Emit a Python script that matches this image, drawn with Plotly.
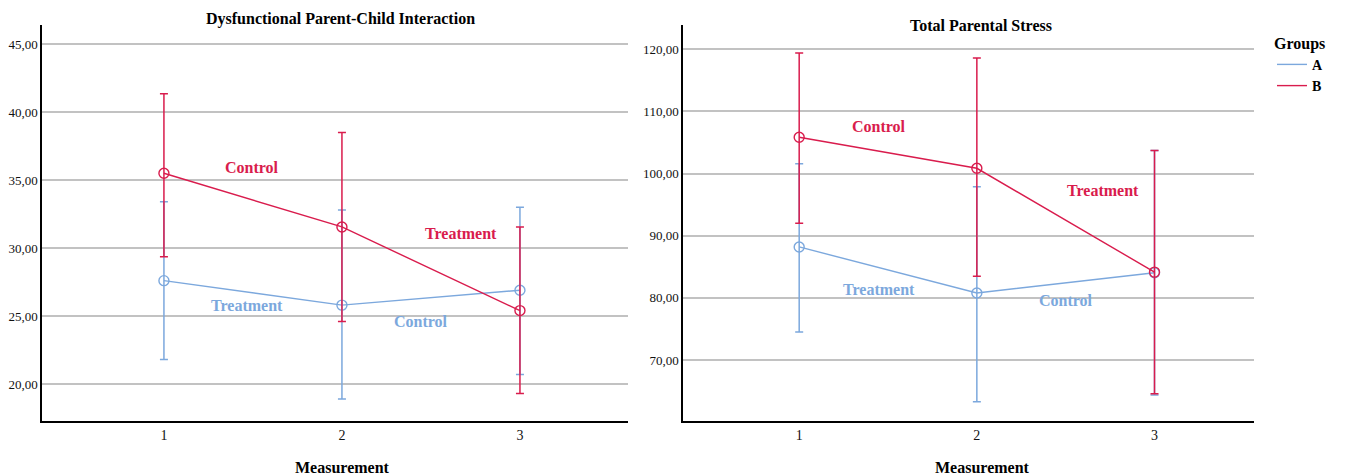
import plotly.graph_objects as go

measurements = [1, 2, 3]

# Dysfunctional Parent-Child Interaction
dpci_A_mean = [27.6, 25.8, 26.9]
dpci_A_low = [21.8, 18.9, 20.7]
dpci_A_high = [33.4, 32.8, 33.0]
dpci_B_mean = [35.5, 31.55, 25.4]
dpci_B_low = [29.35, 24.6, 19.3]
dpci_B_high = [41.35, 38.5, 31.55]

# Total Parental Stress
tps_A_mean = [88.2, 80.8, 84.05]
tps_A_low = [74.5, 63.3, 64.4]
tps_A_high = [101.6, 97.9, 103.7]
tps_B_mean = [105.85, 100.85, 84.15]
tps_B_low = [92.0, 83.5, 64.6]
tps_B_high = [119.4, 118.6, 103.7]

dpci_ticks = [20, 25, 30, 35, 40, 45]
dpci_ticktext = ["20,00", "25,00", "30,00", "35,00", "40,00", "45,00"]
tps_ticks = [70, 80, 90, 100, 110, 120]
tps_ticktext = ["70,00", "80,00", "90,00", "100,00", "110,00", "120,00"]

group_names = ["A", "B"]
blue = "#7ca8dd"
red = "#d91c4d"
FONT = "Liberation Serif"

# the page body has an 8px margin; figure is placed at (8, 8)
OFF = 8
W, H = 1337, 468


def px(x):
    return (x - OFF) / W


def py(y):
    return 1 - (y - OFF) / H


fig = go.Figure()


def add_series(means, low, high, color, xa, ya):
    fig.add_trace(go.Scatter(
        x=measurements, y=means, mode="lines+markers",
        line=dict(color=color, width=1.4),
        marker=dict(symbol="circle-open", size=10, color=color, line=dict(width=1.4)),
        error_y=dict(type="data", symmetric=False,
                     array=[h - m for h, m in zip(high, means)],
                     arrayminus=[m - l for m, l in zip(means, low)],
                     color=color, thickness=1.5, width=4),
        xaxis=xa, yaxis=ya, showlegend=False, hoverinfo="skip"))


add_series(dpci_A_mean, dpci_A_low, dpci_A_high, blue, "x", "y")
add_series(dpci_B_mean, dpci_B_low, dpci_B_high, red, "x", "y")
add_series(tps_A_mean, tps_A_low, tps_A_high, blue, "x2", "y2")
add_series(tps_B_mean, tps_B_low, tps_B_high, red, "x2", "y2")

# legend entries
for name, color in zip(group_names, [blue, red]):
    fig.add_trace(go.Scatter(x=[None], y=[None], mode="lines", name=f"<b>{name}</b>",
                             line=dict(color=color, width=1.4), showlegend=True,
                             xaxis="x2", yaxis="y2"))

ydom = [py(421), py(25)]
common_x = dict(tickmode="array", tickvals=measurements, ticktext=[str(m) for m in measurements],
                showgrid=False, zeroline=False, showline=True, linecolor="black", linewidth=1.5,
                ticks="", automargin=False, tickfont=dict(family=FONT, size=14, color="#111"))
common_y = dict(showgrid=True, gridcolor="#c2c2c2", gridwidth=2, zeroline=False,
                showline=True, linecolor="black", linewidth=1.5, ticks="", automargin=False,
                tickfont=dict(family=FONT, size=13, color="#111"))

fig.update_layout(
    width=W, height=H,
    margin=dict(l=0, r=0, t=0, b=0, autoexpand=False),
    paper_bgcolor="white", plot_bgcolor="white",
    xaxis=dict(domain=[px(42), px(628)], range=[0.315, 3.607], anchor="y", **common_x),
    yaxis=dict(domain=ydom, range=[17.28, 46.4], anchor="x", tickvals=dpci_ticks,
               ticktext=dpci_ticktext, **common_y),
    xaxis2=dict(domain=[px(683), px(1254)], range=[0.346, 3.56], anchor="y2", **common_x),
    yaxis2=dict(domain=ydom, range=[60.2, 123.9], anchor="x2", tickvals=tps_ticks,
                ticktext=tps_ticktext, **common_y),
    legend=dict(x=px(1272), y=py(28), xanchor="left", yanchor="top",
                title=dict(text="<b>Groups</b>", font=dict(family=FONT, size=16, color="black")),
                font=dict(family=FONT, size=14, color="black"),
                bgcolor="rgba(0,0,0,0)", tracegroupgap=0, itemwidth=30),
)

# titles
fig.add_annotation(text="<b>Dysfunctional Parent-Child Interaction</b>", x=px(340), y=py(19),
                   xref="paper", yref="paper", xanchor="center", yanchor="middle", showarrow=False,
                   font=dict(family=FONT, size=16, color="black"))
fig.add_annotation(text="<b>Total Parental Stress</b>", x=px(981), y=py(26),
                   xref="paper", yref="paper", xanchor="center", yanchor="middle", showarrow=False,
                   font=dict(family=FONT, size=16, color="black"))
for cx in [342, 982]:
    fig.add_annotation(text="<b>Measurement</b>", x=px(cx), y=py(467),
                       xref="paper", yref="paper", xanchor="center", yanchor="middle", showarrow=False,
                       font=dict(family=FONT, size=16, color="black"))

# in-plot labels
labels = [
    ("Control", 1.494, 35.9, red, "x", "y"),
    ("Treatment", 2.669, 31.05, red, "x", "y"),
    ("Treatment", 1.466, 25.8, blue, "x", "y"),
    ("Control", 2.444, 24.57, blue, "x", "y"),
    ("Control", 1.45, 107.5, red, "x2", "y2"),
    ("Treatment", 2.71, 97.35, red, "x2", "y2"),
    ("Treatment", 1.45, 81.4, blue, "x2", "y2"),
    ("Control", 2.50, 79.65, blue, "x2", "y2"),
]
for t, x, y, c, xr, yr in labels:
    fig.add_annotation(text=f"<b>{t}</b>", x=x, y=y, xref=xr, yref=yr, showarrow=False,
                       xanchor="center", yanchor="middle",
                       font=dict(family=FONT, size=16, color=c))

fig.write_html("out.html")
